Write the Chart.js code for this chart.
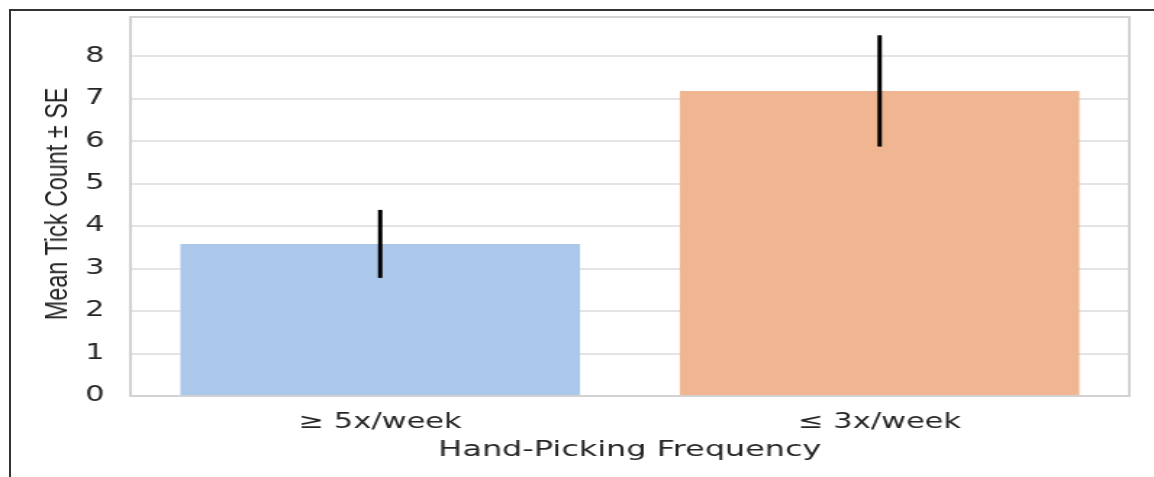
<!DOCTYPE html>
<html lang="en">
<head>
<meta charset="utf-8">
<title>Hand-Picking Frequency</title>
<script src="https://cdn.jsdelivr.net/npm/chart.js@4.4.0/dist/chart.umd.min.js"></script>
<style>
    html, body { margin: 0; padding: 0; background: #fff; }
    body { width: 1154px; height: 477px; position: relative; overflow: hidden; }
    #frame {
        position: absolute; left: 9px; top: 9px; right: 0; bottom: 0;
        border-top: 2px solid #333; border-left: 2px solid #333;
    }
    /* le graphique est étiré horizontalement comme l'image d'origine */
    #wrap {
        position: absolute; left: 0; top: 0; width: 796px; height: 477px;
        transform: scaleX(1.4497); transform-origin: 0 0;
    }
    #ylabel {
        position: absolute; left: -93px; top: 187px; width: 300px; height: 40px;
        line-height: 40px; text-align: center; white-space: nowrap;
        font-family: 'Liberation Sans', Arial, sans-serif; font-size: 31px; color: #262626;
        transform: rotate(-90deg) scaleX(0.755);
    }
</style>
</head>
<body>
<div id="frame"></div>
<div id="wrap"><canvas id="chart"></canvas></div>
<div id="ylabel">Mean Tick Count ± SE</div>
<script>
// Données
const categories = ['≥ 5x/week', '≤ 3x/week'];
const meanCounts = [3.58, 7.18];
const standardErrors = [0.8, 1.31];
const barColors = ['#abc8ea', '#f0b691'];
const yMax = 8.92;

// Barres d'erreur (± SE)
const errorBarsPlugin = {
    id: 'errorBars',
    afterDatasetsDraw(chart) {
        const ctx = chart.ctx;
        const xScale = chart.scales.x;
        const yScale = chart.scales.y;
        ctx.save();
        ctx.strokeStyle = '#000';
        ctx.lineWidth = 3;
        meanCounts.forEach((mean, i) => {
            const px = xScale.getPixelForValue(i);
            ctx.beginPath();
            ctx.moveTo(px, yScale.getPixelForValue(mean - standardErrors[i]));
            ctx.lineTo(px, yScale.getPixelForValue(mean + standardErrors[i]));
            ctx.stroke();
        });
        ctx.restore();
    }
};

// Cadre gris autour de la zone de tracé
const plotFramePlugin = {
    id: 'plotFrame',
    afterDraw(chart) {
        const { ctx, chartArea } = chart;
        ctx.save();
        ctx.strokeStyle = '#d2d2d2';
        ctx.lineWidth = 2;
        ctx.strokeRect(chartArea.left, chartArea.top, chartArea.right - chartArea.left, chartArea.bottom - chartArea.top);
        ctx.restore();
    }
};

const tickFont = { family: "'DejaVu Sans', sans-serif", size: 21 };

new Chart(document.getElementById('chart'), {
    type: 'bar',
    data: {
        labels: categories,
        datasets: [{
            data: meanCounts,
            backgroundColor: barColors,
            borderWidth: 0,
            barPercentage: 0.8,
            categoryPercentage: 1.0
        }]
    },
    options: {
        responsive: true,
        maintainAspectRatio: false,
        animation: false,
        layout: { padding: { top: 17, right: 17, bottom: 0, left: 0 } },
        plugins: {
            legend: { display: false },
            tooltip: { enabled: false }
        },
        scales: {
            x: {
                grid: { display: false },
                border: { display: false },
                ticks: { font: tickFont, color: '#262626', padding: 6 },
                title: {
                    display: true,
                    text: 'Hand-Picking Frequency',
                    font: { family: "'DejaVu Sans', sans-serif", size: 22 },
                    color: '#262626',
                    padding: { top: 0, bottom: 14 }
                },
                afterFit: (scale) => { scale.height = 81; }
            },
            y: {
                min: 0,
                max: yMax,
                grid: { color: '#e4e4e4', lineWidth: 2, drawTicks: false },
                border: { display: false },
                ticks: { stepSize: 1, includeBounds: false, font: tickFont, color: '#262626', padding: 18 },
                afterFit: (scale) => {
                    scale.width = 90;
                    scale.paddingTop = 0;
                    scale.paddingBottom = 0;
                }
            }
        }
    },
    plugins: [errorBarsPlugin, plotFramePlugin]
});
</script>
</body>
</html>
